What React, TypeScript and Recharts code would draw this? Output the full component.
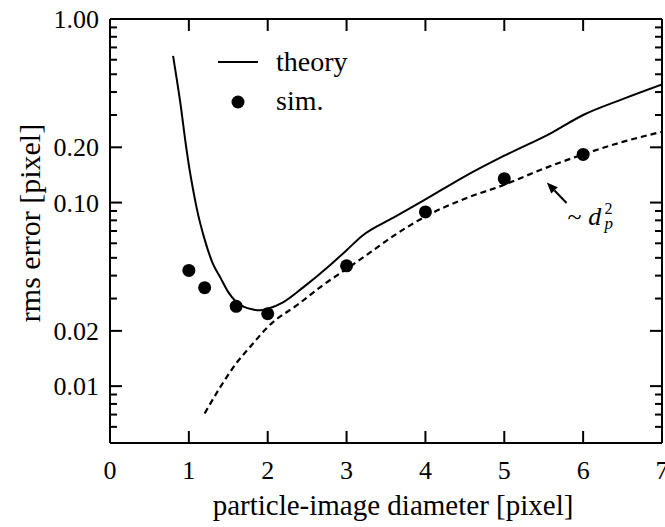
import { ComposedChart, Line, Scatter, XAxis, YAxis, Legend, ReferenceLine } from 'recharts'

const FONT = '"Liberation Serif", "Times New Roman", serif'

// theory curve (solid)
const theoryX = [0.8, 0.85, 0.9, 0.95, 1.0, 1.05, 1.1, 1.2, 1.3, 1.4, 1.5, 1.6, 1.7, 1.8, 1.9, 2.0, 2.2, 2.45, 2.8, 3.0, 3.2, 3.6, 4.0, 4.5, 5.0, 5.6, 6.0, 6.5, 7.0]
const theoryY = [0.63, 0.46, 0.33, 0.225, 0.16, 0.12, 0.093, 0.063, 0.047, 0.039, 0.0325, 0.0288, 0.027, 0.0262, 0.0259, 0.0264, 0.0287, 0.0345, 0.046, 0.055, 0.066, 0.083, 0.104, 0.139, 0.18, 0.24, 0.3, 0.366, 0.44]

// ~ d_p^2 curve (dashed)
const powerX = [1.2, 1.4, 1.6, 1.8, 2.0, 2.4, 2.7, 3.0, 3.3, 3.6, 4.0, 4.5, 5.0, 5.5, 6.0, 6.5, 7.0]
const powerY = [0.0071, 0.0099, 0.0133, 0.0168, 0.021, 0.0282, 0.0355, 0.0435, 0.0535, 0.066, 0.084, 0.105, 0.125, 0.153, 0.183, 0.214, 0.243]

// simulation points
const simX = [1, 1.2, 1.6, 2, 3, 4, 5, 6]
const simY = [0.0427, 0.0344, 0.0272, 0.0248, 0.0452, 0.0889, 0.135, 0.183]

const xTicks = [0, 1, 2, 3, 4, 5, 6, 7]
const yMajor = [0.01, 0.02, 0.1, 0.2, 1]
const yMinor = [0.006, 0.007, 0.008, 0.009, 0.03, 0.04, 0.05, 0.06, 0.07, 0.08, 0.09, 0.3, 0.4, 0.5, 0.6, 0.7, 0.8, 0.9]

const theory = theoryX.map((x, i) => ({ x, y: theoryY[i] }))
const power = powerX.map((x, i) => ({ x, y: powerY[i] }))
const sim = simX.map((x, i) => ({ x, y: simY[i] }))
const yTicks = [...yMajor, ...yMinor]

const BottomTick = ({ x, y, payload }: any) => (
  <g>
    <line x1={x} y1={y} x2={x} y2={y - 12} stroke="#000" strokeWidth={2} />
    <text x={x} y={y + 36} textAnchor="middle" fontFamily={FONT} fontSize={26} fill="#000">
      {payload.value}
    </text>
  </g>
)

const TopTick = ({ x, y }: any) => <line x1={x} y1={y} x2={x} y2={y + 12} stroke="#000" strokeWidth={2} />

const LeftTick = ({ x, y, payload }: any) => {
  const major = yMajor.includes(payload.value)
  return (
    <g>
      <line x1={x} y1={y} x2={x + (major ? 12 : 7)} y2={y} stroke="#000" strokeWidth={2} />
      {major && (
        <text x={x - 11} y={y + 9} textAnchor="end" fontFamily={FONT} fontSize={26} fill="#000">
          {payload.value.toFixed(2)}
        </text>
      )}
    </g>
  )
}

const RightTick = ({ x, y, payload }: any) => {
  const major = yMajor.includes(payload.value)
  return <line x1={x} y1={y} x2={x - (major ? 12 : 7)} y2={y} stroke="#000" strokeWidth={2} />
}

const XTitle = ({ viewBox }: any) => (
  <text x={viewBox.x + viewBox.width / 2 + 7} y={viewBox.y + 72} textAnchor="middle" fontFamily={FONT} fontSize={29} fill="#000">
    particle-image diameter [pixel]
  </text>
)

const YTitle = ({ viewBox }: any) => {
  const cx = 40
  const cy = viewBox.y + viewBox.height / 2 - 8
  return (
    <text x={cx} y={cy} transform={`rotate(-90, ${cx}, ${cy})`} textAnchor="middle" fontFamily={FONT} fontSize={30} fill="#000">
      rms error [pixel]
    </text>
  )
}

const SimDot = ({ cx, cy }: any) => <circle cx={cx} cy={cy} r={6.5} fill="#000" />

// arrow pointing at the dashed curve, with the ~ d_p^2 note
const Arrow = ({ x1, y1, x2, y2 }: any) => {
  const ang = Math.atan2(y2 - y1, x2 - x1)
  const len = 11
  const half = 4.5
  const bx = x2 - len * Math.cos(ang)
  const by = y2 - len * Math.sin(ang)
  const px = -Math.sin(ang) * half
  const py = Math.cos(ang) * half
  return (
    <g>
      <line x1={x1} y1={y1} x2={bx} y2={by} stroke="#000" strokeWidth={2} />
      <polygon points={`${x2},${y2} ${bx + px},${by + py} ${bx - px},${by - py}`} fill="#000" />
      <text x={x1 + 1} y={y1 + 22} fontFamily={FONT} fontSize={26} fill="#000">
        ~ <tspan fontStyle="italic">d</tspan>
        <tspan x={x1 + 38} dy={-11} fontSize={16} fontStyle="normal">2</tspan>
        <tspan x={x1 + 38} dy={15} fontSize={17} fontStyle="italic">p</tspan>
      </text>
    </g>
  )
}

const LegendBox = () => (
  <svg width={170} height={80}>
    <line x1={8} y1={22} x2={48} y2={22} stroke="#000" strokeWidth={2} />
    <text x={66} y={31} fontFamily={FONT} fontSize={28} fill="#000">theory</text>
    <circle cx={28} cy={62} r={6.5} fill="#000" />
    <text x={66} y={70} fontFamily={FONT} fontSize={28} fill="#000">sim.</text>
  </svg>
)

export default function App() {
  return (
    <div style={{ position: 'absolute', left: 0, top: 0, width: 665, height: 527, background: '#fff' }}>
      <ComposedChart width={665} height={527} margin={{ top: 18, right: 2, bottom: 0, left: 0 }}>
        <XAxis
          xAxisId="b"
          dataKey="x"
          type="number"
          domain={[0, 7]}
          ticks={xTicks}
          interval={0}
          allowDataOverflow
          height={84}
          tickSize={0}
          tickMargin={0}
          tickLine={false}
          tick={<BottomTick />}
          axisLine={{ stroke: '#000', strokeWidth: 2 }}
          label={{ content: XTitle }}
        />
        <XAxis
          xAxisId="t"
          orientation="top"
          dataKey="x"
          type="number"
          domain={[0, 7]}
          ticks={xTicks}
          interval={0}
          allowDataOverflow
          height={1}
          tickSize={0}
          tickMargin={0}
          tickLine={false}
          tick={<TopTick />}
          axisLine={{ stroke: '#000', strokeWidth: 2 }}
        />
        <YAxis
          yAxisId="l"
          dataKey="y"
          type="number"
          scale="log"
          domain={[0.0049, 1]}
          ticks={yTicks}
          interval={0}
          allowDataOverflow
          width={110}
          tickSize={0}
          tickMargin={0}
          tickLine={false}
          tick={<LeftTick />}
          axisLine={{ stroke: '#000', strokeWidth: 2 }}
          label={{ content: YTitle }}
        />
        <YAxis
          yAxisId="r"
          orientation="right"
          dataKey="y"
          type="number"
          scale="log"
          domain={[0.0049, 1]}
          ticks={yTicks}
          interval={0}
          allowDataOverflow
          width={1}
          tickSize={0}
          tickMargin={0}
          tickLine={false}
          tick={<RightTick />}
          axisLine={{ stroke: '#000', strokeWidth: 2 }}
        />
        <Line
          xAxisId="b"
          yAxisId="l"
          data={theory}
          dataKey="y"
          type="monotone"
          stroke="#000"
          strokeWidth={2}
          dot={false}
          isAnimationActive={false}
        />
        <Line
          xAxisId="b"
          yAxisId="l"
          data={power}
          dataKey="y"
          type="monotone"
          stroke="#000"
          strokeWidth={2.2}
          strokeDasharray="6 4"
          dot={false}
          isAnimationActive={false}
        />
        <Scatter xAxisId="b" yAxisId="l" data={sim} dataKey="y" fill="#000" shape={<SimDot />} isAnimationActive={false} />
        <ReferenceLine
          xAxisId="b"
          yAxisId="l"
          segment={[{ x: 5.79, y: 0.0995 }, { x: 5.54, y: 0.1286 }]}
          shape={<Arrow />}
        />
        <Legend
          layout="horizontal"
          align="center"
          verticalAlign="middle"
          wrapperStyle={{ left: 210, top: 40, width: 170 }}
          content={<LegendBox />}
        />
      </ComposedChart>
    </div>
  )
}
